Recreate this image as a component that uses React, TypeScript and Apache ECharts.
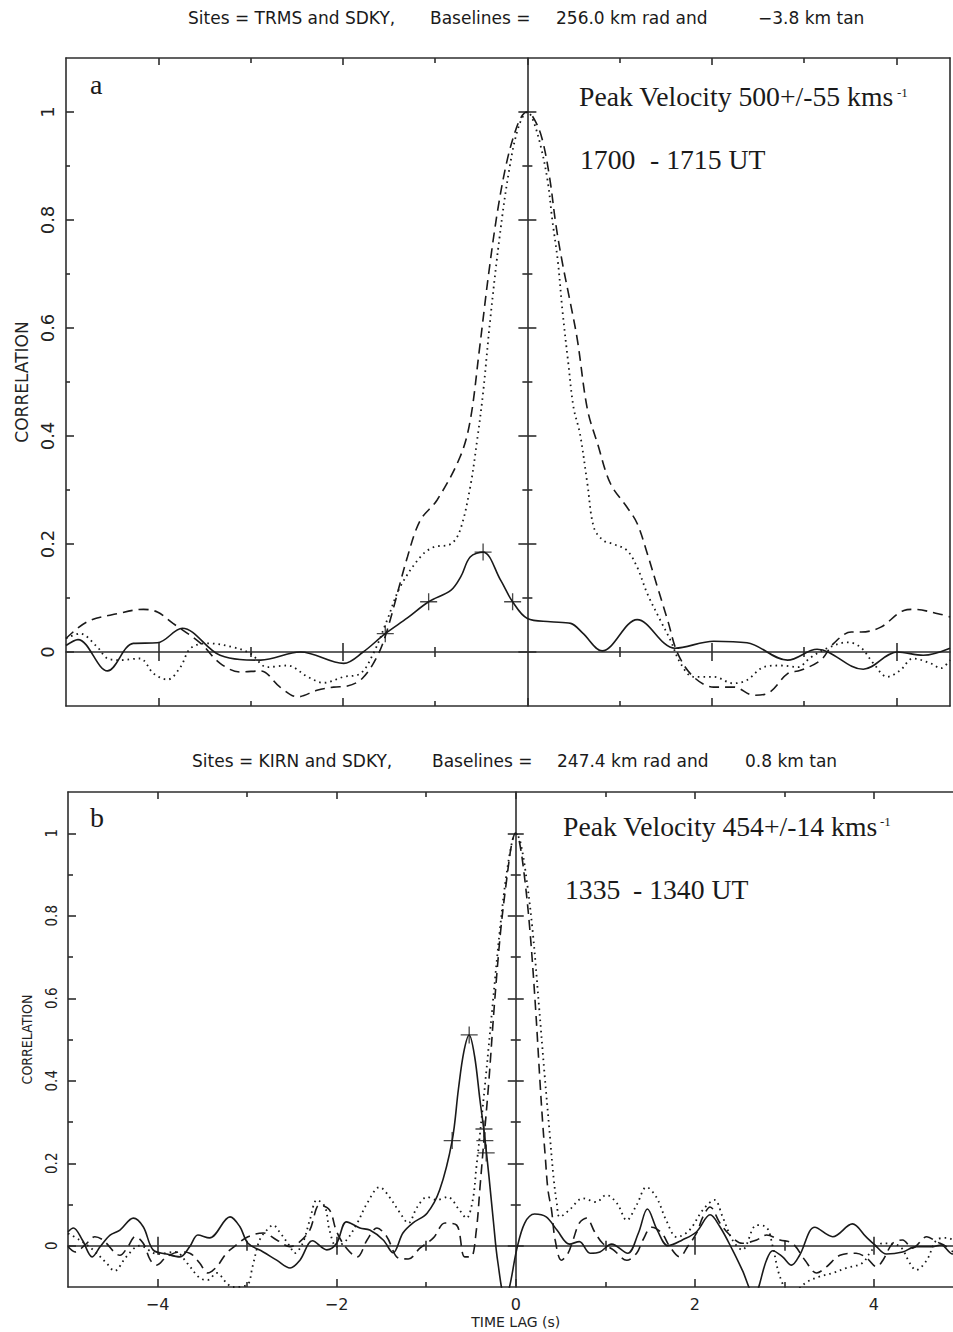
import React, { useEffect, useRef } from 'react';
import * as echarts from 'echarts';

// ---------- Panel a (TRMS / SDKY) ----------
const lagA_solid = [-5.0, -4.87, -4.55, -4.27, -4.01, -3.74, -3.33, -2.89, -2.46, -1.99, -1.78, -1.54, -1.3, -1.07, -0.83, -0.72, -0.62, -0.48, -0.29, -0.16, 0, 0.25, 0.47, 0.6, 0.81, 1.19, 1.6, 2.02, 2.38, 2.82, 3.14, 3.64, 4.01, 4.29, 4.58];
const corrA_solid = [0.012, 0.023, -0.035, 0.016, 0.017, 0.044, -0.006, -0.015, 0.0, -0.021, 0.0, 0.034, 0.063, 0.093, 0.114, 0.14, 0.176, 0.185, 0.133, 0.093, 0.062, 0.056, 0.053, 0.035, 0.002, 0.06, 0.007, 0.02, 0.017, -0.015, 0.005, -0.032, 0.0, -0.006, 0.007];

const lagA_dashed = [-5.0, -4.77, -4.44, -4.16, -4.01, -3.84, -3.54, -3.33, -3.11, -2.89, -2.68, -2.49, -2.28, -2.1, -1.95, -1.79, -1.63, -1.52, -1.3, -1.16, -0.98, -0.73, -0.62, -0.52, -0.42, -0.32, -0.22, -0.12, -0.05, 0, 0.08, 0.16, 0.24, 0.31, 0.38, 0.45, 0.54, 0.65, 0.76, 0.9, 1.08, 1.19, 1.3, 1.41, 1.52, 1.63, 1.8, 2.02, 2.24, 2.45, 2.61, 2.82, 2.96, 3.18, 3.32, 3.51, 3.62, 3.83, 4.08, 4.19, 4.45, 4.58];
const corrA_dashed = [0.025, 0.056, 0.071, 0.079, 0.074, 0.053, 0.016, -0.021, -0.037, -0.035, -0.065, -0.083, -0.071, -0.065, -0.063, -0.049, -0.009, 0.04, 0.176, 0.244, 0.281, 0.361, 0.428, 0.56, 0.7, 0.82, 0.91, 0.97, 0.995, 1.0, 0.985, 0.95, 0.88, 0.79, 0.72, 0.66, 0.58, 0.45, 0.386, 0.312, 0.268, 0.238, 0.182, 0.12, 0.059, -0.003, -0.046, -0.065, -0.065, -0.08, -0.076, -0.04, -0.034, -0.015, 0.016, 0.037, 0.037, 0.046, 0.077, 0.079, 0.071, 0.065];

const lagA_dotted = [-5.0, -4.85, -4.66, -4.55, -4.41, -4.2, -4.05, -3.9, -3.76, -3.65, -3.47, -3.19, -3.0, -2.82, -2.6, -2.38, -2.21, -1.99, -1.81, -1.67, -1.52, -1.38, -1.16, -1.02, -0.83, -0.73, -0.62, -0.54, -0.48, -0.4, -0.3, -0.2, -0.1, 0, 0.05, 0.14, 0.22, 0.27, 0.33, 0.38, 0.44, 0.5, 0.57, 0.65, 0.72, 0.82, 0.93, 1.08, 1.19, 1.3, 1.44, 1.55, 1.66, 1.8, 2.02, 2.23, 2.38, 2.56, 2.74, 2.93, 3.07, 3.25, 3.47, 3.61, 3.75, 3.9, 4.04, 4.18, 4.37, 4.48, 4.58];
const corrA_dotted = [0.025, 0.034, 0.009, -0.012, -0.015, -0.012, -0.04, -0.051, -0.028, 0.007, 0.016, 0.009, -0.003, -0.028, -0.025, -0.046, -0.057, -0.046, -0.04, -0.003, 0.059, 0.12, 0.176, 0.194, 0.2, 0.225, 0.305, 0.398, 0.48, 0.62, 0.77, 0.89, 0.97, 1.0, 0.99, 0.94, 0.872, 0.8, 0.724, 0.632, 0.54, 0.453, 0.404, 0.312, 0.231, 0.207, 0.2, 0.188, 0.157, 0.108, 0.059, 0.022, -0.021, -0.046, -0.046, -0.058, -0.052, -0.028, -0.025, -0.028, -0.01, 0.007, 0.018, 0.009, -0.021, -0.046, -0.034, -0.012, -0.021, -0.03, -0.015];

const lagA_marks = [-1.54, -1.07, -0.48, -0.16];
const corrA_marks = [0.034, 0.093, 0.185, 0.093];

// ---------- Panel b (KIRN / SDKY) ----------
const lagB_solid = [-5.0, -4.94, -4.84, -4.73, -4.64, -4.53, -4.42, -4.27, -4.16, -4.05, -3.9, -3.75, -3.64, -3.55, -3.42, -3.19, -3.08, -2.99, -2.82, -2.67, -2.52, -2.41, -2.27, -2.11, -2.0, -1.89, -1.74, -1.63, -1.48, -1.37, -1.26, -1.15, -0.99, -0.85, -0.71, -0.64, -0.58, -0.52, -0.46, -0.4, -0.35, -0.3, -0.25, -0.2, -0.12, -0.07, 0.01, 0.1, 0.21, 0.34, 0.46, 0.6, 0.71, 0.83, 0.94, 1.07, 1.25, 1.37, 1.47, 1.58, 1.7, 1.86, 2.02, 2.17, 2.28, 2.42, 2.53, 2.66, 2.8, 2.87, 2.98, 3.08, 3.17, 3.34, 3.54, 3.76, 3.91, 4.01, 4.14, 4.32, 4.47, 4.65, 4.75, 4.88, 5.0];
const corrB_solid = [0.034, 0.043, 0.014, -0.027, -0.002, 0.026, 0.038, 0.067, 0.046, -0.01, -0.02, -0.027, -0.002, 0.026, 0.019, 0.07, 0.046, 0.006, -0.015, -0.035, -0.054, -0.035, 0.012, -0.01, 0.006, 0.058, 0.043, 0.038, 0.014, -0.017, 0.031, 0.055, 0.079, 0.135, 0.255, 0.38, 0.47, 0.511, 0.46, 0.354, 0.27, 0.17, 0.06, -0.04, -0.125, -0.1, -0.01, 0.055, 0.077, 0.07, 0.038, 0.004, 0.01, -0.018, -0.015, 0.004, -0.018, 0.031, 0.089, 0.038, 0.0, 0.014, 0.034, 0.075, 0.046, -0.01, -0.059, -0.12, -0.035, -0.012, -0.027, -0.047, -0.023, 0.045, 0.022, 0.053, 0.022, 0.002, -0.02, -0.015, -0.002, -0.002, 0.002, -0.02, -0.01];

const lagB_dashed = [-5.0, -4.92, -4.79, -4.7, -4.61, -4.42, -4.33, -4.25, -4.16, -4.08, -4.01, -3.9, -3.75, -3.64, -3.53, -3.44, -3.34, -3.23, -3.12, -2.99, -2.82, -2.67, -2.52, -2.41, -2.3, -2.19, -2.08, -2.0, -1.89, -1.77, -1.66, -1.55, -1.44, -1.31, -1.2, -1.07, -0.92, -0.79, -0.66, -0.57, -0.5, -0.44, -0.4, -0.35, -0.3, -0.24, -0.17, -0.1, -0.04, 0, 0.04, 0.1, 0.16, 0.22, 0.27, 0.3, 0.33, 0.36, 0.4, 0.44, 0.51, 0.58, 0.64, 0.71, 0.79, 0.88, 0.97, 1.09, 1.24, 1.35, 1.42, 1.52, 1.63, 1.72, 1.83, 1.92, 2.02, 2.09, 2.17, 2.28, 2.39, 2.53, 2.69, 2.8, 2.95, 3.09, 3.23, 3.36, 3.47, 3.62, 3.8, 3.92, 4.03, 4.1, 4.21, 4.32, 4.43, 4.59, 4.7, 4.81, 4.9, 5.0];
const corrB_dashed = [-0.002, -0.015, 0.006, 0.022, 0.014, -0.023, -0.002, 0.022, 0.006, -0.035, -0.047, -0.027, -0.015, -0.018, -0.042, -0.066, -0.051, -0.018, 0.002, 0.022, 0.031, 0.014, -0.002, 0.01, 0.038, 0.099, 0.087, 0.034, -0.006, -0.027, 0.014, 0.043, 0.022, -0.03, -0.032, -0.006, 0.019, 0.055, 0.05, -0.027, -0.027, 0.038, 0.14, 0.27, 0.4, 0.58, 0.76, 0.89, 0.98, 1.0, 0.98, 0.89, 0.76, 0.58, 0.4, 0.3, 0.215, 0.135, 0.086, 0.014, -0.035, -0.02, 0.014, 0.055, 0.067, 0.034, 0.006, -0.01, -0.035, -0.018, 0.014, 0.045, 0.031, -0.002, -0.027, -0.002, 0.031, 0.07, 0.094, 0.055, 0.026, 0.006, 0.014, 0.026, 0.014, 0.006, -0.035, -0.066, -0.051, -0.023, -0.018, -0.03, -0.051, -0.035, 0.006, 0.014, -0.006, 0.022, 0.01, -0.002, -0.015, -0.01];

const lagB_dotted = [-5.0, -4.87, -4.72, -4.57, -4.48, -4.35, -4.2, -4.0, -3.8, -3.67, -3.53, -3.44, -3.34, -3.23, -3.16, -3.0, -2.94, -2.86, -2.78, -2.71, -2.63, -2.52, -2.47, -2.38, -2.3, -2.22, -2.13, -2.08, -2.0, -1.89, -1.77, -1.66, -1.52, -1.41, -1.29, -1.2, -1.1, -0.99, -0.88, -0.76, -0.63, -0.55, -0.48, -0.44, -0.4, -0.33, -0.26, -0.18, -0.11, -0.04, 0, 0.05, 0.12, 0.19, 0.26, 0.32, 0.38, 0.42, 0.46, 0.49, 0.6, 0.75, 0.9, 1.01, 1.13, 1.24, 1.35, 1.46, 1.57, 1.68, 1.8, 1.94, 2.09, 2.22, 2.31, 2.42, 2.53, 2.69, 2.8, 2.87, 2.95, 3.05, 3.15, 3.25, 3.39, 3.54, 3.69, 3.87, 3.98, 4.1, 4.29, 4.4, 4.47, 4.59, 4.7, 4.81, 4.9, 5.0];
const corrB_dotted = [0.03, 0.014, -0.01, -0.042, -0.061, -0.027, 0.0, -0.02, -0.015, -0.042, -0.078, -0.083, -0.066, -0.09, -0.1, -0.095, -0.051, 0.014, 0.038, 0.05, 0.031, -0.002, -0.018, 0.006, 0.062, 0.111, 0.094, 0.038, -0.002, 0.014, 0.055, 0.103, 0.142, 0.118, 0.079, 0.055, 0.094, 0.118, 0.111, 0.118, 0.087, 0.067, 0.111, 0.19, 0.27, 0.42, 0.58, 0.76, 0.89, 0.98, 1.0, 0.98, 0.89, 0.76, 0.58, 0.42, 0.27, 0.17, 0.1, 0.07, 0.087, 0.115, 0.106, 0.123, 0.103, 0.062, 0.099, 0.142, 0.118, 0.062, 0.021, 0.038, 0.087, 0.111, 0.07, 0.014, -0.01, 0.05, 0.045, -0.002, -0.075, -0.11, -0.105, -0.088, -0.075, -0.066, -0.054, -0.042, -0.01, 0.006, -0.002, -0.042, -0.059, -0.035, 0.014, 0.019, 0.014, 0.01];

const lagB_marks = [-0.71, -0.52, -0.355, -0.345, -0.33];
const corrB_marks = [0.255, 0.511, 0.283, 0.255, 0.225];

// ---------- Axis tick values ----------
const xMajorTicks = [-4, -2, 0, 2, 4];
const xMinorTicks = [-3, -1, 1, 3];
const xZeroMajorTicks = [-4, -2, 2, 4];
const yMajorTicks = [0, 0.2, 0.4, 0.6, 0.8, 1];
const yMinorTicks = [0.1, 0.3, 0.5, 0.7, 0.9];

const zip = (xs: number[], ys: number[]) => xs.map((x, i) => [x, ys[i]]);

const INK = '#1a1a1a';
const AX = '#2e2e2e';
const AXW = 1.6;
const PLUS = 'path://M-9,-0.7H9V0.7H-9Z M-0.7,-9H0.7V9H-0.7Z';

function axisLine(show: boolean, onZero: boolean, idx?: number) {
  const o: any = { show, onZero, lineStyle: { color: AX, width: AXW } };
  if (idx !== undefined) o.onZeroAxisIndex = idx;
  return o;
}
function axisTick(vals: number[], length: number, inside: boolean) {
  return { show: true, customValues: vals, length, inside, lineStyle: { color: AX, width: AXW } };
}

function buildX(g: number, min: number, max: number, yBase: number, labelCfg: any, nameCfg: any) {
  const base = (extra: any) => ({
    type: 'value', gridIndex: g, min, max,
    splitLine: { show: false }, axisLabel: { show: false }, ...extra,
  });
  return [
    base({ position: 'bottom', axisLine: axisLine(true, false), axisTick: axisTick(xMajorTicks, 8, true), axisLabel: labelCfg, ...nameCfg }),
    base({ position: 'bottom', axisLine: axisLine(false, false), axisTick: axisTick(xMinorTicks, 5, true) }),
    base({ position: 'top', axisLine: axisLine(true, false), axisTick: axisTick(xMajorTicks, 7, true) }),
    base({ position: 'top', axisLine: axisLine(false, false), axisTick: axisTick(xMinorTicks, 5, true) }),
    base({ position: 'bottom', axisLine: axisLine(true, true, yBase), axisTick: axisTick(xZeroMajorTicks, 9, true) }),
    base({ position: 'bottom', axisLine: axisLine(false, true, yBase), axisTick: axisTick(xZeroMajorTicks, 9, false) }),
    base({ position: 'bottom', axisLine: axisLine(false, true, yBase), axisTick: axisTick(xMinorTicks, 5, true) }),
    base({ position: 'bottom', axisLine: axisLine(false, true, yBase), axisTick: axisTick(xMinorTicks, 5, false) }),
  ];
}

function buildY(g: number, xBase: number, labelCfg: any, nameCfg: any, majLen: number, minLen: number, zMaj: number, zMin: number) {
  const base = (extra: any) => ({
    type: 'value', gridIndex: g, min: -0.1, max: 1.1,
    splitLine: { show: false }, axisLabel: { show: false }, ...extra,
  });
  return [
    base({ position: 'left', axisLine: axisLine(true, false), axisTick: axisTick(yMajorTicks, majLen, true), axisLabel: labelCfg, ...nameCfg }),
    base({ position: 'left', axisLine: axisLine(false, false), axisTick: axisTick(yMinorTicks, minLen, true) }),
    base({ position: 'right', axisLine: axisLine(true, false), axisTick: { show: false } }),
    base({ position: 'left', axisLine: axisLine(true, true, xBase), axisTick: axisTick(yMajorTicks, zMaj, true) }),
    base({ position: 'left', axisLine: axisLine(false, true, xBase), axisTick: axisTick(yMajorTicks, zMaj, false) }),
    base({ position: 'left', axisLine: axisLine(false, true, xBase), axisTick: axisTick(yMinorTicks, zMin, true) }),
    base({ position: 'left', axisLine: axisLine(false, true, xBase), axisTick: axisTick(yMinorTicks, zMin, false) }),
  ];
}

const SANS = "'DejaVu Sans', sans-serif";
const COND = "'DejaVu Sans Condensed', 'Liberation Sans Narrow', 'DejaVu Sans', sans-serif";
const SERIF = "'Liberation Serif', 'Times New Roman', serif";

function lineSeries(x: number, y: number, lags: number[], vals: number[], kind: 'solid' | 'dashed' | 'dotted') {
  const ls: any = { color: INK, width: 1.6 };
  if (kind === 'dashed') ls.type = [10, 6];
  if (kind === 'dotted') { ls.type = [1.6, 4]; ls.width = 1.8; }
  return {
    type: 'line', xAxisIndex: x, yAxisIndex: y, data: zip(lags, vals),
    showSymbol: false, symbol: 'none', smooth: 0.35, lineStyle: ls, silent: true, z: 3,
  };
}
function markSeries(x: number, y: number, lags: number[], vals: number[]) {
  return {
    type: 'scatter', xAxisIndex: x, yAxisIndex: y, data: zip(lags, vals),
    symbol: PLUS, symbolSize: 17, itemStyle: { color: INK }, silent: true, z: 4,
  };
}

function txt(x: number, y: number, text: string, fontSize: number, fontFamily: string) {
  return { type: 'text', x, y, style: { text, fontSize, fontFamily, fill: '#1a1a1a', align: 'left', verticalAlign: 'middle' } };
}

export default function App() {
  const ref = useRef<HTMLDivElement>(null);
  useEffect(() => {
    if (!ref.current) return;
    const chart = echarts.init(ref.current, null, { renderer: 'svg' });

    const yLabelA = { show: true, customValues: yMajorTicks, rotate: 90, margin: 10, fontSize: 18, fontFamily: SANS, color: '#222', formatter: (v: number) => String(Math.round(v * 10) / 10) };
    const yLabelB = { show: true, customValues: yMajorTicks, rotate: 90, margin: 9, fontSize: 15, fontFamily: COND, color: '#222', formatter: (v: number) => String(Math.round(v * 10) / 10) };
    const xLabelB = { show: true, customValues: xMajorTicks, margin: 9, fontSize: 16, fontFamily: SANS, color: '#222', formatter: (v: number) => (v < 0 ? '\u2212' + Math.abs(v) : String(v)) };

    const yNameA = { name: 'CORRELATION', nameLocation: 'middle', nameRotate: 90, nameGap: 36, nameTextStyle: { fontSize: 17, fontFamily: SANS, color: '#222' } };
    const yNameB = { name: 'CORRELATION', nameLocation: 'middle', nameRotate: 90, nameGap: 34, nameTextStyle: { fontSize: 14, fontFamily: COND, color: '#222' } };
    const xNameB = { name: 'TIME LAG (s)', nameLocation: 'middle', nameGap: 28, nameTextStyle: { fontSize: 14, fontFamily: SANS, color: '#222' } };

    const xAxes = [
      ...buildX(0, -5, 4.58, 0, { show: false }, {}),
      ...buildX(1, -5, 5, 7, xLabelB, xNameB),
    ];
    const yAxes = [
      ...buildY(0, 0, yLabelA, yNameA, 8, 4, 9, 5),
      ...buildY(1, 8, yLabelB, yNameB, 8, 5, 8, 5),
    ];

    const option: any = {
      animation: false,
      backgroundColor: '#ffffff',
      grid: [
        { left: 66, top: 58, width: 884, height: 648, outerBoundsMode: 'none', containLabel: false },
        { left: 68, top: 792, width: 895.5, height: 495, outerBoundsMode: 'none', containLabel: false },
      ],
      xAxis: xAxes,
      yAxis: yAxes,
      series: [
        lineSeries(0, 0, lagA_solid, corrA_solid, 'solid'),
        lineSeries(0, 0, lagA_dashed, corrA_dashed, 'dashed'),
        lineSeries(0, 0, lagA_dotted, corrA_dotted, 'dotted'),
        markSeries(0, 0, lagA_marks, corrA_marks),
        lineSeries(8, 7, lagB_solid, corrB_solid, 'solid'),
        lineSeries(8, 7, lagB_dashed, corrB_dashed, 'dashed'),
        lineSeries(8, 7, lagB_dotted, corrB_dotted, 'dotted'),
        markSeries(8, 7, lagB_marks, corrB_marks),
      ],
      graphic: [
        txt(188, 18, 'Sites = TRMS and SDKY,', 17, SANS),
        txt(430, 18, 'Baselines =', 17, SANS),
        txt(556, 18, '256.0 km rad and', 17, SANS),
        txt(758, 18, '\u22123.8 km tan', 17, SANS),
        txt(192, 761, 'Sites = KIRN and SDKY,', 17, SANS),
        txt(432, 761, 'Baselines =', 17, SANS),
        txt(557, 761, '247.4 km rad and', 17, SANS),
        txt(745, 761, '0.8 km tan', 17, SANS),
        txt(90, 84, 'a', 28, SERIF),
        txt(90, 817, 'b', 28, SERIF),
        txt(579, 96, 'Peak Velocity 500+/-55 kms', 27.7, SERIF),
        txt(897, 92, '-1', 13, SERIF),
        txt(580, 159, '1700', 27.7, SERIF),
        txt(650, 159, '- 1715 UT', 27.7, SERIF),
        txt(563, 826, 'Peak Velocity 454+/-14 kms', 27.7, SERIF),
        txt(880, 821, '-1', 13, SERIF),
        txt(565, 889, '1335', 27.7, SERIF),
        txt(633, 889, '- 1340 UT', 27.7, SERIF),
      ],
    };
    chart.setOption(option);
    return () => chart.dispose();
  }, []);
  return (
    <div style={{ position: 'absolute', left: 0, top: 0, width: 953, height: 1332, overflow: 'hidden', background: '#fff' }}>
      <div ref={ref} style={{ width: 1000, height: 1332 }} />
    </div>
  );
}
